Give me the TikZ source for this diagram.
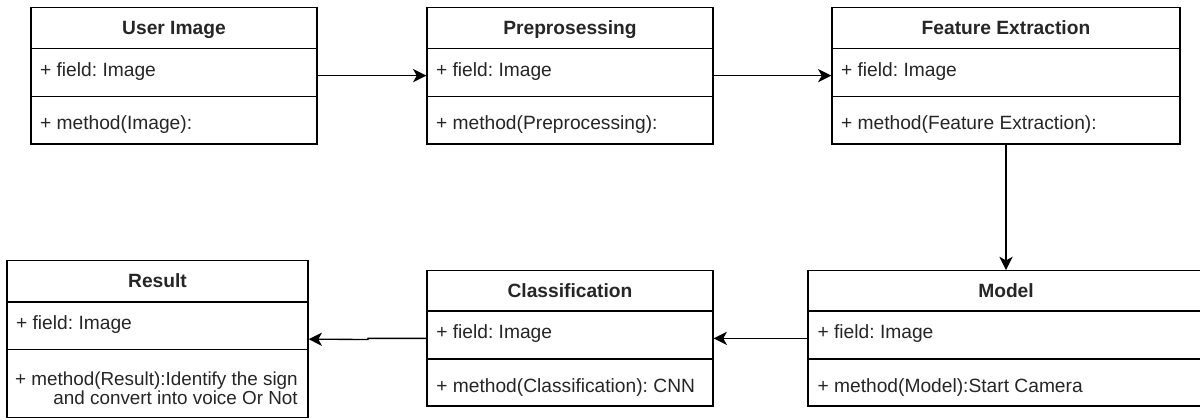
\documentclass[tikz,border=0pt]{standalone}
\usepackage{fontspec}
\setmainfont{Liberation Sans}
\usetikzlibrary{arrows.meta,fit,calc}
\frenchspacing
\begin{document}
\frenchspacing
\begin{tikzpicture}[x=0.75pt,y=-0.75pt,
  box/.style={draw=black, line width=1pt, inner sep=0pt, fill=white, rectangle},
  sepline/.style={draw=black, line width=1pt},
  hdr/.style={font=\fontsize{14.4}{17}\selectfont\bfseries, text=black!85, inner sep=0pt, anchor=base},
  txt/.style={font=\fontsize{14.4}{17}\selectfont, text=black!85, inner sep=0pt, anchor=base west},
  txtr/.style={font=\fontsize{14.15}{17}\selectfont, text=black!85, inner sep=0pt, anchor=base east},
  arr/.style={draw=black, line width=1pt, -{Stealth[length=10pt,width=10pt,inset=2.8pt]}}]
\useasboundingbox (0,0) rectangle (1200,419);
\clip (0,0) rectangle (1200,419);

% ---------- top row ----------
\node[box, fit={(31,7.3)(317,144)}] (ui) {};
\draw[sepline] (ui.west |- 0,48.7) -- (ui.east |- 0,48.7);
\draw[sepline] (ui.west |- 0,96.4) -- (ui.east |- 0,96.4);
\node[hdr] (uih) at ($(ui.north)+(0,28.2)$) {User Image};
\node[txt] (uif) at ($(ui.north west)+(9.5,69.5)$) {+ field: Image};
\node[txt] (uim) at ($(ui.north west)+(9.5,123)$) {+ method(Image):};

\node[box, fit={(427,7.3)(713,144)}] (pp) {};
\draw[sepline] (pp.west |- 0,48.7) -- (pp.east |- 0,48.7);
\draw[sepline] (pp.west |- 0,96.4) -- (pp.east |- 0,96.4);
\node[hdr] (pph) at ($(pp.north)+(0,28.2)$) {Preprosessing};
\node[txt] (ppf) at ($(pp.north west)+(9.5,69.5)$) {+ field: Image};
\node[txt] (ppm) at ($(pp.north west)+(9.5,123)$) {+ method(Preprocessing):};

\node[box, fit={(832,7.3)(1180,144)}] (fe) {};
\draw[sepline] (fe.west |- 0,48.7) -- (fe.east |- 0,48.7);
\draw[sepline] (fe.west |- 0,96.4) -- (fe.east |- 0,96.4);
\node[hdr] (feh) at ($(fe.north)+(0,28.2)$) {Feature Extraction};
\node[txt] (fef) at ($(fe.north west)+(9.5,69.5)$) {+ field: Image};
\node[txt] (fem) at ($(fe.north west)+(9.5,123)$) {+ method(Feature Extraction):};

% ---------- bottom row ----------
\node[box, fit={(7,260.7)(308,417.6)}] (res) {};
\draw[sepline] (res.west |- 0,302) -- (res.east |- 0,302);
\draw[sepline] (res.west |- 0,349.5) -- (res.east |- 0,349.5);
\node[hdr] (resh) at ($(res.north)+(0,27.6)$) {Result};
\node[txt] (resf) at ($(res.north west)+(9.5,69.3)$) {+ field: Image};
\node[txtr] (resm1) at (298,385) {+ method(Result):Identify the sign};
\node[txtr] (resm2) at (298,404.3) {and convert into voice Or Not};

\node[box, fit={(427,270.7)(713,406)}] (cl) {};
\draw[sepline] (cl.west |- 0,311) -- (cl.east |- 0,311);
\draw[sepline] (cl.west |- 0,359) -- (cl.east |- 0,359);
\node[hdr] (clh) at ($(cl.north)+(0,27.6)$) {Classification};
\node[txt] (clf) at ($(cl.north west)+(9.7,68.6)$) {+ field: Image};
\node[txt] (clm) at ($(cl.north west)+(9.7,122.6)$) {+ method(Classification): CNN};

\node[box, fit={(808,270.7)(1204,406)}] (mo) {};
\draw[sepline] (mo.west |- 0,311) -- (mo.east |- 0,311);
\draw[sepline] (mo.west |- 0,359) -- (mo.east |- 0,359);
\node[hdr] (moh) at ($(mo.north)+(0,27.6)$) {Model};
\node[txt] (mof) at ($(mo.north west)+(10,68.6)$) {+ field: Image};
\node[txt] (mom) at ($(mo.north west)+(10,122.6)$) {+ method(Model):Start Camera};

% ---------- connectors ----------
\draw[arr] (ui.east) -- (pp.west);
\draw[arr] (pp.east) -- (fe.west);
\draw[arr] (fe.south) -- (fe.south |- mo.north);
\draw[arr] (mo.west) -- (cl.east);
\coordinate (jog) at (368,339.5);
\draw[arr] (cl.west) -- (cl.west -| jog) -- (jog) -- (res.east);
\end{tikzpicture}
\end{document}
